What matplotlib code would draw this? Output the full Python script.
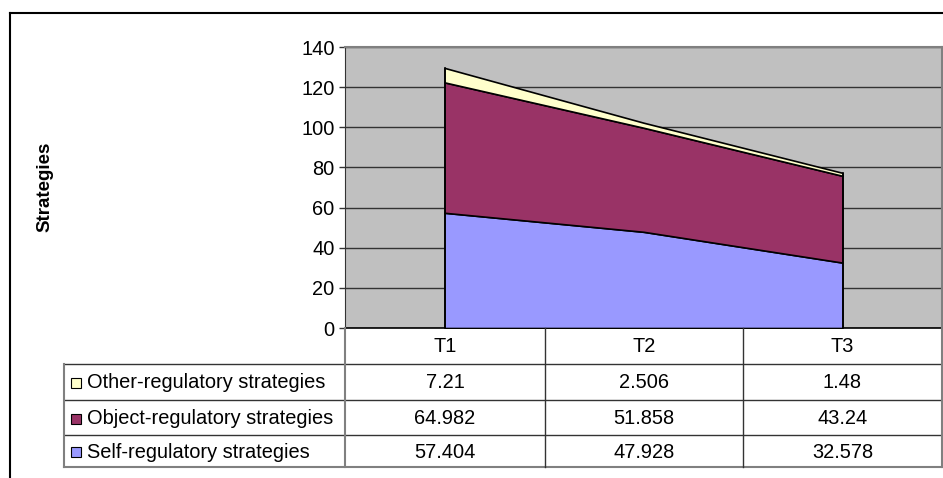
import matplotlib
matplotlib.use("Agg")
import matplotlib.pyplot as plt
from matplotlib.patches import Rectangle
import numpy as np

plt.rcParams['font.family'] = ['Liberation Sans', 'DejaVu Sans']

periods = ["T1", "T2", "T3"]
self_reg = [57.404, 47.928, 32.578]
object_reg = [64.982, 51.858, 43.24]
other_reg = [7.21, 2.506, 1.48]
series_names = ["Other-regulatory strategies", "Object-regulatory strategies", "Self-regulatory strategies"]
series_values = [other_reg, object_reg, self_reg]
series_colors = ["#FFFFCC", "#993366", "#9999FF"]
y_ticks = [0, 20, 40, 60, 80, 100, 120, 140]

FS = 14.4
W, H = 943, 478
fig = plt.figure(figsize=(W / 100, H / 100), dpi=100)

def fx(px):
    return px / W

def fy(py):
    return 1 - py / H

# outer chart frame
fig.add_artist(plt.Line2D([fx(10), fx(10)], [fy(13), fy(478)], color="black", lw=1.5))
fig.add_artist(plt.Line2D([fx(10), fx(943)], [fy(13), fy(13)], color="black", lw=1.5))

left, right, top, bottom = 345, 942, 47, 328
ax = fig.add_axes([fx(left), fy(bottom), fx(right - left), (bottom - top) / H])
ax.set_facecolor("#C0C0C0")
ax.set_xlim(0, len(periods))
ax.set_ylim(0, 140)

x = np.arange(len(periods)) + 0.5
base = np.zeros(len(periods))
stack_order = [self_reg, object_reg, other_reg]
stack_colors = ["#9999FF", "#993366", "#FFFFCC"]
for vals, col in zip(stack_order, stack_colors):
    vals = np.asarray(vals)
    ax.fill_between(x, base, base + vals, facecolor=col, edgecolor="black", lw=1.2, zorder=3)
    base = base + vals
# vertical edges of the stack
ax.plot([x[0], x[0]], [0, base[0]], color="black", lw=1.2, zorder=4)
ax.plot([x[-1], x[-1]], [0, base[-1]], color="black", lw=1.2, zorder=4)

ax.set_yticks(y_ticks)
ax.set_xticks([])
ax.yaxis.grid(True, color="#333333", lw=1)
ax.set_axisbelow(True)
ax.tick_params(axis="y", length=4.5, width=1, color="#333333", labelsize=FS, pad=3)
for s in ["top", "right"]:
    ax.spines[s].set_color("#808080")
    ax.spines[s].set_linewidth(1.5)
ax.spines["left"].set_color("#333333")
ax.spines["bottom"].set_color("black")
ax.spines["bottom"].set_linewidth(1.2)

fig.text(fx(45), fy(187), "Strategies", rotation=90, ha="center", va="center",
         fontsize=13.5, fontweight="bold")

# data table below the plot
col_edges = [345, 545, 743, 942]
row_edges = [328, 364, 400, 435, 467]
label_left = 64
lc = "#333333"

def hline(y, x0, x1, color=lc, lw=1):
    fig.add_artist(plt.Line2D([fx(x0), fx(x1)], [fy(y), fy(y)], color=color, lw=lw))

def vline(xp, y0, y1, color=lc, lw=1):
    fig.add_artist(plt.Line2D([fx(xp), fx(xp)], [fy(y0), fy(y1)], color=color, lw=lw))

for y in row_edges[1:-1]:
    hline(y, label_left, col_edges[-1])
hline(row_edges[-1], label_left, col_edges[-1], color="#808080", lw=1.5)
vline(label_left, row_edges[1], row_edges[-1], color="#808080", lw=1.5)
vline(col_edges[0], row_edges[0], row_edges[-1], color="#808080", lw=1.5)
for xp in col_edges[1:-1]:
    vline(xp, row_edges[0], row_edges[-1])
vline(col_edges[-1], row_edges[0], row_edges[-1], color="#808080", lw=1.5)

for i, p in enumerate(periods):
    cx = (col_edges[i] + col_edges[i + 1]) / 2
    fig.text(fx(cx), fy((row_edges[0] + row_edges[1]) / 2 + 1), p, ha="center", va="center", fontsize=FS)

for r, (name, vals, col) in enumerate(zip(series_names, series_values, series_colors)):
    cy = (row_edges[r + 1] + row_edges[r + 2]) / 2
    fig.add_artist(Rectangle((fx(71), fy(cy + 6)), fx(10), 10 / H, facecolor=col,
                             edgecolor="black", lw=0.8))
    fig.text(fx(87), fy(cy + 1), name, ha="left", va="center", fontsize=FS)
    for i, v in enumerate(vals):
        cx = (col_edges[i] + col_edges[i + 1]) / 2
        fig.text(fx(cx), fy(cy + 1), f"{v:g}", ha="center", va="center", fontsize=FS)

fig.savefig("out.png", dpi=100)
